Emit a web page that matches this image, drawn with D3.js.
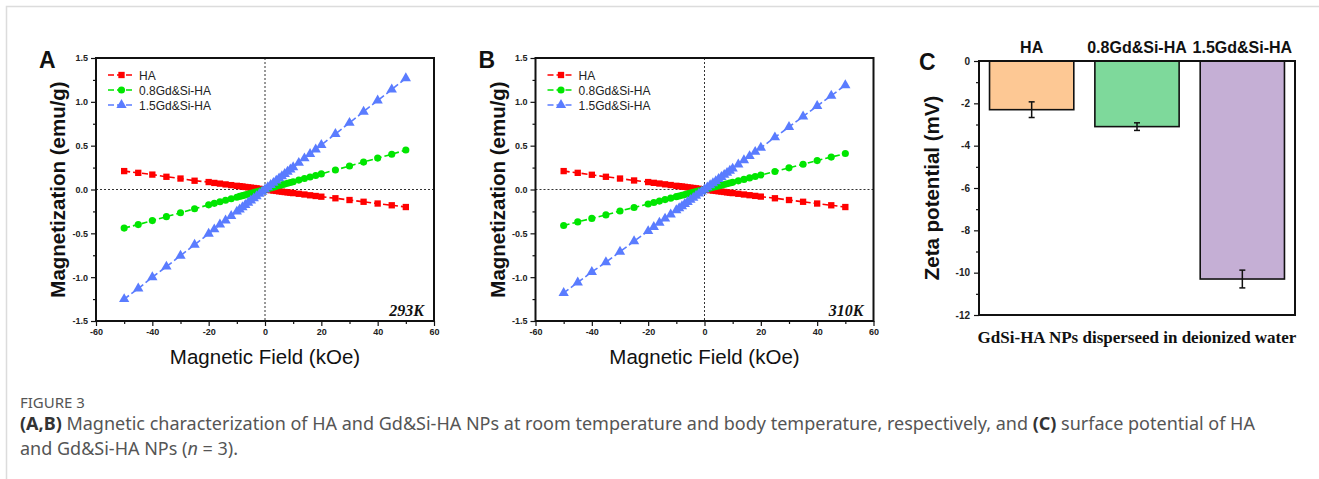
<!DOCTYPE html>
<html>
<head>
<meta charset="utf-8">
<script src="https://cdn.jsdelivr.net/npm/d3@7"></script>
<style>
  body { margin: 0; background: #fff; }
  svg { display: block; }
</style>
</head>
<body>
<div id="plot"></div>
<script>
// field values (kOe) shared by all magnetization curves
const fieldKOe = [-50, -45, -40, -35, -30, -25, -20, -18, -16, -14, -12,
  -10, -9, -8, -7, -6, -5, -4, -3, -2, -1, 0, 1, 2, 3, 4, 5, 6, 7, 8, 9, 10,
  12, 14, 16, 18, 20, 25, 30, 35, 40, 45, 50];

// 293K (panel A)
const ha293 = [0.21, 0.19, 0.17, 0.145, 0.125, 0.10, 0.085, 0.075, 0.067, 0.058, 0.05,
  0.042, 0.038, 0.034, 0.029, 0.025, 0.021, 0.017, 0.013, 0.008, 0.004, 0, -0.004, -0.008, -0.012, -0.016, -0.021, -0.025, -0.029, -0.033, -0.037, -0.041,
  -0.049, -0.057, -0.066, -0.074, -0.082, -0.10, -0.12, -0.14, -0.16, -0.18, -0.20];
const gd08_293 = [-0.44, -0.40, -0.355, -0.31, -0.265, -0.22, -0.175, -0.158, -0.14, -0.123, -0.105,
  -0.088, -0.079, -0.07, -0.062, -0.053, -0.044, -0.035, -0.026, -0.018, -0.009, 0, 0.009, 0.018, 0.027, 0.036, 0.045, 0.053, 0.062, 0.071, 0.08, 0.089,
  0.107, 0.125, 0.143, 0.16, 0.178, 0.223, 0.268, 0.313, 0.358, 0.402, 0.45];
const gd15_293 = [-1.25, -1.13, -1.00, -0.88, -0.755, -0.63, -0.505, -0.455, -0.40, -0.353, -0.302,
  -0.252, -0.227, -0.202, -0.176, -0.151, -0.126, -0.101, -0.076, -0.05, -0.025, 0, 0.025, 0.051, 0.076, 0.101, 0.127, 0.152, 0.177, 0.203, 0.228, 0.253,
  0.304, 0.355, 0.405, 0.456, 0.507, 0.634, 0.76, 0.888, 1.015, 1.14, 1.27];

// 310K (panel B)
const ha310 = [0.21, 0.19, 0.168, 0.145, 0.125, 0.103, 0.085, 0.076, 0.068, 0.059, 0.051,
  0.042, 0.038, 0.034, 0.03, 0.025, 0.021, 0.017, 0.013, 0.008, 0.004, 0, -0.004, -0.008, -0.012, -0.016, -0.02, -0.024, -0.028, -0.033, -0.037, -0.041,
  -0.049, -0.057, -0.065, -0.073, -0.081, -0.10, -0.12, -0.14, -0.16, -0.18, -0.20];
const gd08_310 = [-0.41, -0.37, -0.33, -0.29, -0.245, -0.205, -0.165, -0.148, -0.132, -0.115, -0.099,
  -0.082, -0.074, -0.066, -0.058, -0.049, -0.041, -0.033, -0.025, -0.016, -0.008, 0, 0.008, 0.016, 0.025, 0.033, 0.041, 0.049, 0.058, 0.066, 0.074, 0.082,
  0.099, 0.115, 0.132, 0.148, 0.165, 0.205, 0.247, 0.288, 0.33, 0.37, 0.41];
const gd15_310 = [-1.18, -1.06, -0.94, -0.83, -0.71, -0.59, -0.475, -0.427, -0.38, -0.332, -0.285,
  -0.237, -0.213, -0.19, -0.166, -0.142, -0.118, -0.095, -0.071, -0.047, -0.024, 0, 0.024, 0.048, 0.071, 0.095, 0.119, 0.143, 0.167, 0.19, 0.214, 0.238,
  0.286, 0.333, 0.381, 0.429, 0.476, 0.595, 0.714, 0.833, 0.952, 1.07, 1.19];

const seriesNames = ["HA", "0.8Gd&Si-HA", "1.5Gd&Si-HA"];
const fieldTicks = [-60, -40, -20, 0, 20, 40, 60];
const magTicks = [-1.5, -1.0, -0.5, 0.0, 0.5, 1.0, 1.5];

// zeta potential (panel C)
const zetaGroups = ["HA", "0.8Gd&Si-HA", "1.5Gd&Si-HA"];
const zetaMean = [-2.3, -3.1, -10.3];
const zetaErr = [0.37, 0.18, 0.42];
const zetaTicks = [0, -2, -4, -6, -8, -10, -12];

const width = 1319, height = 479;
const colors = ["#ff0000", "#00e600", "#5a7cff"];
const shapes = [d3.symbolSquare, d3.symbolCircle, d3.symbolTriangle];
const sizes = [40, 40, 46];
const hyphen = f => d => f(d).replace("\u2212", "-");

const svg = d3.select("div#plot")
  .append("svg")
  .attr("width", width)
  .attr("height", height);

svg.append("rect").attr("width", width).attr("height", height).attr("fill", "#fff");

// light frame around the figure
svg.append("rect")
  .attr("x", 6.5).attr("y", 6.5)
  .attr("width", width + 20).attr("height", height + 20)
  .attr("fill", "none").attr("stroke", "#dcdcdc").attr("stroke-width", 1.5);

function magPanel(left, letter, temp, series) {
  const x0 = left, x1 = left + 338, y0 = 58, y1 = 321;
  const g = svg.append("g");

  const x = d3.scaleLinear().domain([-60, 60]).range([x0, x1]);
  const y = d3.scaleLinear().domain([-1.5, 1.5]).range([y1, y0]);

  // minor ticks
  g.append("g")
    .attr("transform", "translate(0," + y1 + ")")
    .call(d3.axisBottom(x).tickValues(d3.range(-50, 60, 20)).tickSize(3).tickFormat(""))
    .call(a => a.select(".domain").remove());
  g.append("g")
    .attr("transform", "translate(" + x0 + ",0)")
    .call(d3.axisLeft(y).tickValues([-1.25, -0.75, -0.25, 0.25, 0.75, 1.25]).tickSize(3).tickFormat(""))
    .call(a => a.select(".domain").remove());

  // major ticks
  const xa = g.append("g")
    .attr("transform", "translate(0," + y1 + ")")
    .call(d3.axisBottom(x).tickValues(fieldTicks).tickSize(5).tickPadding(3).tickFormat(hyphen(d3.format("d"))));
  const ya = g.append("g")
    .attr("transform", "translate(" + x0 + ",0)")
    .call(d3.axisLeft(y).tickValues(magTicks).tickSize(5).tickPadding(3).tickFormat(hyphen(d3.format(".1f"))));
  [xa, ya].forEach(a => {
    a.select(".domain").remove();
    a.selectAll("text").attr("font-family", "Arial, Liberation Sans").attr("font-weight", "bold")
      .attr("font-size", 9).attr("fill", "#222");
  });
  g.selectAll(".tick line").attr("stroke", "#111").attr("stroke-width", 1.2);

  // zero guides
  g.append("line").attr("x1", x(0)).attr("x2", x(0)).attr("y1", y0).attr("y2", y1)
    .attr("stroke", "#333").attr("stroke-width", 1).attr("stroke-dasharray", "2,2");
  g.append("line").attr("x1", x0).attr("x2", x1).attr("y1", y(0)).attr("y2", y(0))
    .attr("stroke", "#333").attr("stroke-width", 1).attr("stroke-dasharray", "2,2");

  // curves
  const line = d3.line().x((d, i) => x(fieldKOe[i])).y(d => y(d));
  series.forEach((vals, k) => {
    g.append("path").datum(vals)
      .attr("d", line)
      .attr("fill", "none")
      .attr("stroke", colors[k])
      .attr("stroke-width", 1.6)
      .attr("stroke-dasharray", "6,3");
    g.selectAll(null).data(vals).enter().append("path")
      .attr("transform", (d, i) => "translate(" + x(fieldKOe[i]) + "," + y(d) + ")")
      .attr("d", d3.symbol().type(shapes[k]).size(sizes[k]))
      .attr("fill", colors[k]);
  });

  // frame
  g.append("rect").attr("x", x0).attr("y", y0).attr("width", x1 - x0).attr("height", y1 - y0)
    .attr("fill", "none").attr("stroke", "#111").attr("stroke-width", 2);

  // legend
  seriesNames.forEach((name, k) => {
    const ly = 75 + k * 15;
    g.append("line").attr("x1", x0 + 12).attr("x2", x0 + 39).attr("y1", ly).attr("y2", ly)
      .attr("stroke", colors[k]).attr("stroke-width", 1.6).attr("stroke-dasharray", "6,3");
    g.append("path").attr("transform", "translate(" + (x0 + 25.5) + "," + ly + ")")
      .attr("d", d3.symbol().type(shapes[k]).size(sizes[k])).attr("fill", colors[k]);
    g.append("text").attr("x", x0 + 43).attr("y", ly + 4.5)
      .attr("font-family", "Arial, Liberation Sans").attr("font-size", 12).attr("fill", "#222")
      .text(name);
  });

  // temperature tag
  g.append("text").attr("x", x1 - 10).attr("y", 316)
    .attr("text-anchor", "end")
    .attr("font-family", "Liberation Serif, Times New Roman, serif")
    .attr("font-weight", "bold").attr("font-style", "italic").attr("font-size", 16).attr("fill", "#111")
    .text(temp);

  // axis labels
  g.append("text")
    .attr("transform", "translate(" + (x0 - 31) + "," + ((y0 + y1) / 2) + ") rotate(-90)")
    .attr("text-anchor", "middle")
    .attr("font-family", "Arial, Liberation Sans").attr("font-weight", "bold").attr("font-size", 20.5)
    .attr("fill", "#111")
    .text("Magnetization (emu/g)");
  g.append("text")
    .attr("x", (x0 + x1) / 2).attr("y", 364)
    .attr("text-anchor", "middle")
    .attr("font-family", "Arial, Liberation Sans").attr("font-size", 20.5).attr("fill", "#111")
    .text("Magnetic Field (kOe)");

  // panel letter
  g.append("text").attr("x", x0 - 57).attr("y", 68)
    .attr("font-family", "Arial, Liberation Sans").attr("font-weight", "bold").attr("font-size", 23)
    .attr("fill", "#111")
    .text(letter);
}

magPanel(96, "A", "293K", [ha293, gd08_293, gd15_293]);
magPanel(535.5, "B", "310K", [ha310, gd08_310, gd15_310]);

// panel C: zeta potential bars
(function () {
  const x0 = 979, x1 = 1295, y0 = 61, y1 = 315;
  const g = svg.append("g");
  const barColors = ["#fdc894", "#7ed99b", "#c5afd5"];

  const x = d3.scaleBand().domain(zetaGroups).range([x0, x1]).paddingInner(0.2).paddingOuter(0.1);
  const y = d3.scaleLinear().domain([-12, 0]).range([y1, y0]);

  g.append("g")
    .attr("transform", "translate(" + x0 + ",0)")
    .call(d3.axisLeft(y).tickValues(d3.range(-11, 0, 2)).tickSize(3).tickFormat(""))
    .call(a => a.select(".domain").remove());
  const ya = g.append("g")
    .attr("transform", "translate(" + x0 + ",0)")
    .call(d3.axisLeft(y).tickValues(zetaTicks).tickSize(5).tickPadding(4).tickFormat(hyphen(d3.format("d"))));
  ya.select(".domain").remove();
  ya.selectAll("text").attr("font-family", "Arial, Liberation Sans").attr("font-weight", "bold")
    .attr("font-size", 10).attr("fill", "#222");
  g.selectAll(".tick line").attr("stroke", "#111").attr("stroke-width", 1.2);

  g.selectAll("rect.bar").data(zetaMean).enter().append("rect")
    .attr("class", "bar")
    .attr("x", (d, i) => x(zetaGroups[i]))
    .attr("width", x.bandwidth())
    .attr("y", y(0))
    .attr("height", d => y(d) - y(0))
    .attr("fill", (d, i) => barColors[i])
    .attr("stroke", "#111").attr("stroke-width", 1.6);

  // error bars
  zetaMean.forEach((m, i) => {
    const cx = x(zetaGroups[i]) + x.bandwidth() / 2;
    const lo = y(m - zetaErr[i]), hi = y(m + zetaErr[i]);
    g.append("line").attr("x1", cx).attr("x2", cx).attr("y1", hi).attr("y2", lo)
      .attr("stroke", "#111").attr("stroke-width", 1.5);
    [hi, lo].forEach(v => g.append("line").attr("x1", cx - 3).attr("x2", cx + 3).attr("y1", v).attr("y2", v)
      .attr("stroke", "#111").attr("stroke-width", 1.5));
    g.append("text").attr("x", cx).attr("y", 53)
      .attr("text-anchor", "middle")
      .attr("font-family", "Arial, Liberation Sans").attr("font-weight", "bold").attr("font-size", 16)
      .attr("fill", "#111")
      .text(zetaGroups[i]);
  });

  g.append("rect").attr("x", x0).attr("y", y0).attr("width", x1 - x0).attr("height", y1 - y0)
    .attr("fill", "none").attr("stroke", "#111").attr("stroke-width", 2);

  g.append("text")
    .attr("transform", "translate(" + 939 + "," + ((y0 + y1) / 2) + ") rotate(-90)")
    .attr("text-anchor", "middle")
    .attr("font-family", "Arial, Liberation Sans").attr("font-weight", "bold").attr("font-size", 20.5)
    .attr("fill", "#111")
    .text("Zeta potential (mV)");
  g.append("text")
    .attr("x", (x0 + x1) / 2).attr("y", 343)
    .attr("text-anchor", "middle")
    .attr("font-family", "Liberation Serif, Times New Roman, serif").attr("font-weight", "bold")
    .attr("font-size", 17).attr("fill", "#111")
    .text("GdSi-HA NPs disperseed in deionized water");
  g.append("text").attr("x", 919).attr("y", 70)
    .attr("font-family", "Arial, Liberation Sans").attr("font-weight", "bold").attr("font-size", 23)
    .attr("fill", "#111")
    .text("C");
})();

// caption
const cap = svg.append("g").attr("font-family", "Noto Sans, Open Sans, sans-serif").attr("fill", "#555");
cap.append("text").attr("x", 20).attr("y", 408).attr("font-size", 15).text("FIGURE 3");
const l1 = cap.append("text").attr("x", 20).attr("y", 430).attr("font-size", 18);
l1.append("tspan").attr("font-weight", "bold").attr("fill", "#333").text("(A,B)");
l1.append("tspan").text(" Magnetic characterization of HA and Gd&Si-HA NPs at room temperature and body temperature, respectively, and ");
l1.append("tspan").attr("font-weight", "bold").attr("fill", "#333").text("(C)");
l1.append("tspan").text(" surface potential of HA");
const l2 = cap.append("text").attr("x", 20).attr("y", 455).attr("font-size", 18);
l2.append("tspan").text("and Gd&Si-HA NPs (");
l2.append("tspan").attr("font-style", "italic").text("n");
l2.append("tspan").text(" = 3).");
</script>
</body>
</html>
